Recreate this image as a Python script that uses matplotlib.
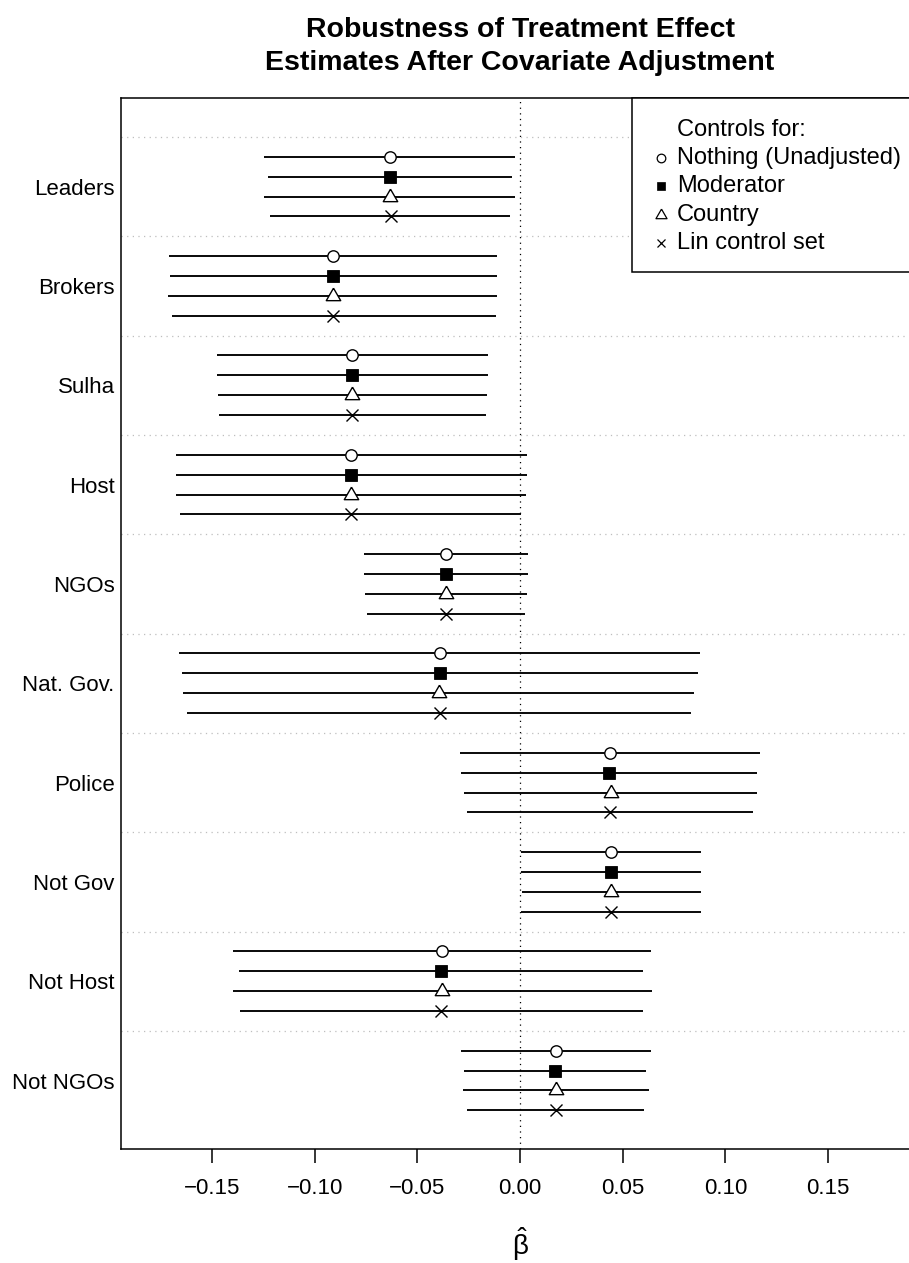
import matplotlib
matplotlib.use("Agg")
import matplotlib.pyplot as plt
from matplotlib.patches import Rectangle

plt.rcParams['font.family'] = ['Liberation Sans', 'DejaVu Sans']
plt.rcParams['mathtext.fontset'] = 'custom'
plt.rcParams['mathtext.rm'] = 'Liberation Sans'
plt.rcParams['mathtext.it'] = 'Liberation Sans:italic'
plt.rcParams['mathtext.bf'] = 'Liberation Sans:bold'

# ---- data -----------------------------------------------------------------
categories = ["Leaders", "Brokers", "Sulha", "Host", "NGOs", "Nat. Gov.",
              "Police", "Not Gov", "Not Host", "Not NGOs"]

series_names = ["Nothing (Unadjusted)", "Moderator", "Country", "Lin control set"]

est_unadj = [-0.0635, -0.0909, -0.0818, -0.0822, -0.0362, -0.0391, 0.0438, 0.0443, -0.0380, 0.0173]
lo_unadj = [-0.1247, -0.1707, -0.1476, -0.1677, -0.0760, -0.1662, -0.0291, 0.0007, -0.1396, -0.0287]
hi_unadj = [-0.0025, -0.0110, -0.0157, 0.0035, 0.0037, 0.0877, 0.1167, 0.0879, 0.0637, 0.0637]

est_mod = [-0.0635, -0.0909, -0.0818, -0.0822, -0.0360, -0.0389, 0.0434, 0.0443, -0.0384, 0.0169]
lo_mod = [-0.1228, -0.1705, -0.1476, -0.1677, -0.0759, -0.1644, -0.0285, 0.0007, -0.1370, -0.0271]
hi_mod = [-0.0039, -0.0110, -0.0157, 0.0035, 0.0037, 0.0866, 0.1155, 0.0881, 0.0601, 0.0614]

est_country = [-0.0635, -0.0909, -0.0818, -0.0822, -0.0362, -0.0395, 0.0441, 0.0443, -0.0382, 0.0173]
lo_country = [-0.1247, -0.1713, -0.1472, -0.1675, -0.0755, -0.1642, -0.0271, 0.0009, -0.1398, -0.0276]
hi_country = [-0.0025, -0.0110, -0.0163, 0.0028, 0.0035, 0.0847, 0.1152, 0.0879, 0.0641, 0.0628]

est_lin = [-0.0630, -0.0909, -0.0818, -0.0824, -0.0362, -0.0391, 0.0438, 0.0443, -0.0384, 0.0173]
lo_lin = [-0.1219, -0.1693, -0.1467, -0.1655, -0.0744, -0.1621, -0.0256, 0.0007, -0.1362, -0.0259]
hi_lin = [-0.0048, -0.0118, -0.0168, 0.0007, 0.0022, 0.0834, 0.1133, 0.0881, 0.0598, 0.0605]

xticks = [-0.15, -0.10, -0.05, 0.00, 0.05, 0.10, 0.15]

# ---- styles ---------------------------------------------------------------
tri_verts = [(0.0, 1.0), (-0.866, -0.5), (0.866, -0.5), (0.0, 1.0)]
marker_styles = [
    dict(marker="o", mfc="white", mec="black", ms=8.2, mew=1.0),
    dict(marker="s", mfc="black", mec="black", ms=8.2, mew=0.6),
    dict(marker=tri_verts, mfc="white", mec="black", ms=12.0, mew=1.0),
    dict(marker="x", mfc="none", mec="black", ms=8.4, mew=1.0),
]
legend_marker_styles = [
    dict(marker="o", mfc="white", mec="black", ms=6.2, mew=0.9),
    dict(marker="s", mfc="black", mec="black", ms=6.0, mew=0.5),
    dict(marker=tri_verts, mfc="white", mec="black", ms=9.2, mew=0.9),
    dict(marker="x", mfc="none", mec="black", ms=6.2, mew=0.9),
]

series = [
    (est_unadj, lo_unadj, hi_unadj),
    (est_mod, lo_mod, hi_mod),
    (est_country, lo_country, hi_country),
    (est_lin, lo_lin, hi_lin),
]

W, H = 909, 1263
fig = plt.figure(figsize=(W / 100, H / 100), dpi=100)
ax_left, ax_right, ax_top, ax_bottom = 121, 919, 98, 1149.3
ax = fig.add_axes([ax_left / W, 1 - ax_bottom / H, (ax_right - ax_left) / W,
                   (ax_bottom - ax_top) / H])

slots = 5  # four estimates plus one spacer per category
n_cat = len(categories)

# separators between categories
for g in range(n_cat):
    ax.axhline(g * slots, color="#bebebe", lw=0.9, ls=(0, (1, 3.5)), zorder=1)

ax.axvline(0.0, color="black", lw=0.9, ls=(0, (1, 3.5)), zorder=1)

for s, (est, lo, hi) in enumerate(series):
    ys = [g * slots + s + 1 for g in range(n_cat)]
    ax.hlines(ys, lo, hi, color="black", lw=1.35, zorder=2)
    ax.plot(est, ys, ls="none", zorder=3, **marker_styles[s])

ax.set_xlim(-0.1943, 0.1943)
ax.set_ylim(n_cat * slots + 0.96, -1.96)

ax.set_yticks([g * slots + 2.5 for g in range(n_cat)])
ax.set_yticklabels(categories, fontsize=16)
ax.tick_params(axis="y", length=0, pad=4.5)

ax.set_xticks(xticks)
ax.set_xticklabels([f"{v:.2f}".replace("-", "\u2212") for v in xticks], fontsize=16)
ax.tick_params(axis="x", direction="out", length=10, width=1.1, pad=11)

for sp in ax.spines.values():
    sp.set_linewidth(1.1)

# legend box
leg_left = (632 - ax_left) / (ax_right - ax_left)
leg_bottom = (ax_bottom - 272) / (ax_bottom - ax_top)
ax.add_patch(Rectangle((leg_left, leg_bottom), 1 - leg_left, 1 - leg_bottom,
                       transform=ax.transAxes, facecolor="white", edgecolor="black",
                       lw=1.1, clip_on=False, zorder=5))
row_px = [130, 158, 186, 214.5, 243]
row_frac = [(ax_bottom - y) / (ax_bottom - ax_top) for y in row_px]
text_x = (677 - ax_left) / (ax_right - ax_left)
mark_x = (661 - ax_left) / (ax_right - ax_left)
ax.text(text_x, row_frac[0], "Controls for:", transform=ax.transAxes,
        fontsize=17, va="center", ha="left", zorder=6)
for i, name in enumerate(series_names):
    ax.text(text_x, row_frac[i + 1], name, transform=ax.transAxes,
            fontsize=17, va="center", ha="left", zorder=6)
    ax.plot([mark_x], [row_frac[i + 1]], transform=ax.transAxes, ls="none",
            clip_on=False, zorder=6, **legend_marker_styles[i])

# title and axis label
cx = 520 / W
fig.text(cx, 1 - 37 / H, "Robustness of Treatment Effect", ha="center",
         va="baseline", fontsize=20.5, fontweight="bold")
fig.text(cx, 1 - 70 / H, "Estimates After Covariate Adjustment", ha="center",
         va="baseline", fontsize=20.5, fontweight="bold")
fig.text(cx, 1 - 1255 / H, r"$\hat{\mathrm{\beta}}$", ha="center",
         va="baseline", fontsize=20)

fig.savefig("out.png", dpi=100)
